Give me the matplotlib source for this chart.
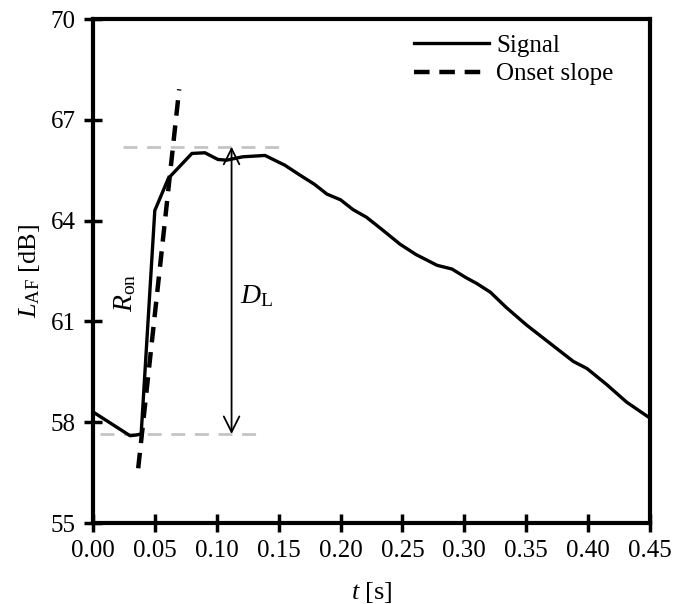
import numpy as np
import matplotlib.pyplot as plt

plt.rcParams['font.family'] = ['Liberation Serif', 'DejaVu Serif']
plt.rcParams['mathtext.fontset'] = 'custom'
plt.rcParams['mathtext.rm'] = 'Liberation Serif'
plt.rcParams['mathtext.it'] = 'Liberation Serif:italic'

# signal
t_sig = [0.000, 0.030, 0.035, 0.039, 0.050, 0.061, 0.080, 0.0905, 0.101, 0.108,
         0.121, 0.139, 0.155, 0.167, 0.179, 0.189, 0.200, 0.210, 0.221, 0.234,
         0.248, 0.261, 0.278, 0.290, 0.301, 0.310, 0.321, 0.334, 0.350, 0.366,
         0.388, 0.399, 0.415, 0.431, 0.450]
L_sig = [58.31, 57.60, 57.62, 57.65, 64.30, 65.26, 66.00, 66.02, 65.82, 65.80,
         65.90, 65.94, 65.65, 65.36, 65.08, 64.79, 64.62, 64.33, 64.10, 63.72,
         63.30, 62.99, 62.67, 62.56, 62.31, 62.13, 61.87, 61.41, 60.90, 60.44,
         59.81, 59.60, 59.12, 58.60, 58.12]

# onset slope line end points
t_onset = [0.0366, 0.0697]
L_onset = [56.63, 67.91]

# reference levels
L_max, L_min = 66.2, 57.65
t_max_ref = [0.024, 0.154]
t_min_ref = [0.0057, 0.135]
t_arrow = 0.112

fig = plt.figure(figsize=(6.73, 6.04), dpi=100)
ax = fig.add_axes([0.138, 0.134, 0.828, 0.8345])

ax.plot(t_max_ref, [L_max, L_max], color='#c4c4c4', lw=2, dashes=(5, 3.5))
ax.plot(t_min_ref, [L_min, L_min], color='#c4c4c4', lw=2, dashes=(5, 3.5))
ax.plot(t_sig, L_sig, color='black', lw=2.4, label='Signal')
ax.plot(t_onset, L_onset, color='black', lw=3.2, dashes=(3.5, 2.2), label='Onset slope')

ax.annotate('', xy=(t_arrow, L_max), xytext=(t_arrow, L_min),
            arrowprops=dict(arrowstyle='<->', color='black', lw=1.3,
                            mutation_scale=28, shrinkA=0, shrinkB=0))
ax.text(0.119, 61.75, r'$D_{\mathrm{L}}$', fontsize=20, ha='left', va='center')
ax.text(0.026, 61.85, r'$R_{\mathrm{on}}$', fontsize=20, ha='center', va='center',
        rotation=90)

ax.set_xlim(0, 0.45)
ax.set_ylim(55, 70)
ax.set_xticks(np.arange(0, 0.451, 0.05))
ax.set_xticklabels([f'{v:.2f}' for v in np.arange(0, 0.451, 0.05)])
ax.set_yticks([55, 58, 61, 64, 67, 70])
ax.tick_params(direction='inout', length=13, width=2.5, labelsize=18, pad=6)
for s in ax.spines.values():
    s.set_linewidth(3)

ax.set_xlabel(r'$t$ [s]', fontsize=19, labelpad=13)
ax.set_ylabel(r'$L_{\mathrm{AF}}$ [dB]', fontsize=19, labelpad=6)

ax.legend(loc='upper right', bbox_to_anchor=(0.966, 1.005), frameon=False,
          fontsize=18, handlelength=3.0, handletextpad=0.3, labelspacing=0.25,
          borderaxespad=0.3)

fig.savefig('out.png', dpi=100)
